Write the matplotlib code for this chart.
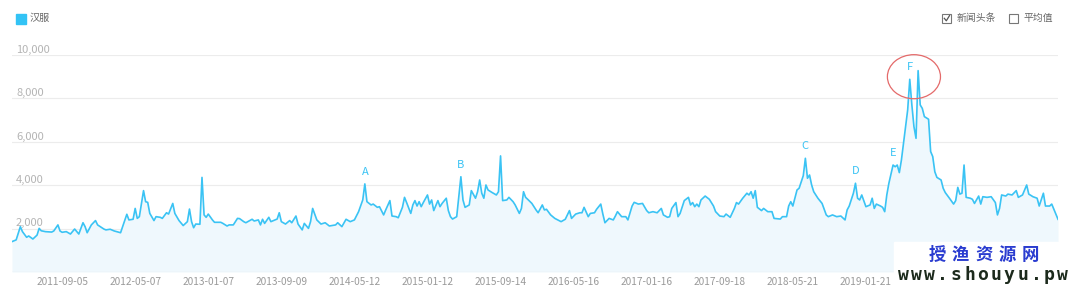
import numpy as np
import pandas as pd
import matplotlib
matplotlib.use('Agg')
import matplotlib.pyplot as plt
import matplotlib.dates as mdates
from matplotlib.patches import Ellipse, Rectangle
from matplotlib.lines import Line2D

plt.rcParams['font.family'] = ['Noto Sans CJK SC', 'DejaVu Sans']

# weekly search index for "汉服", weeks counted from 2011-03-21
start = pd.Timestamp('2011-03-21')
weeks = [0, 2, 4, 5, 7, 8, 10, 12, 13, 14, 16, 19, 20, 22, 23, 24, 26, 28, 30, 32,
         34, 35, 36, 38, 40, 41, 44, 45, 47, 49, 52, 53, 55, 56, 58, 59, 60, 61, 63, 64,
         65, 66, 68, 69, 71, 72, 74, 75, 77, 78, 80, 82, 84, 85, 86, 87, 88, 90, 91, 92,
         93, 94, 96, 97, 100, 101, 103, 104, 106, 108, 109, 111, 112, 115, 116, 118, 119, 120, 121, 123,
         124, 127, 128, 129, 131, 133, 134, 136, 137, 139, 140, 142, 143, 144, 146, 148, 150, 152, 155, 156,
         158, 160, 162, 164, 166, 168, 169, 170, 172, 173, 175, 176, 178, 179, 181, 182, 184, 185, 187, 188,
         189, 191, 192, 193, 194, 195, 196, 197, 199, 200, 201, 202, 204, 205, 206, 208, 209, 210, 211, 213,
         215, 216, 217, 219, 220, 222, 223, 224, 225, 226, 227, 228, 230, 232, 233, 234, 235, 237, 238, 240,
         241, 243, 244, 245, 246, 247, 249, 251, 252, 254, 255, 256, 258, 260, 263, 265, 267, 268, 270, 272,
         273, 274, 276, 277, 279, 280, 282, 283, 284, 286, 288, 289, 290, 292, 294, 295, 297, 298, 300, 302,
         304, 305, 307, 309, 311, 312, 314, 315, 316, 318, 319, 320, 322, 324, 325, 326, 327, 328, 329, 330,
         332, 334, 336, 337, 339, 341, 342, 344, 346, 347, 348, 350, 352, 353, 354, 355, 356, 357, 359, 360,
         362, 364, 365, 368, 369, 371, 372, 373, 374, 376, 377, 379, 380, 381, 382, 383, 384, 386, 388, 390,
         391, 393, 395, 397, 399, 400, 401, 403, 404, 405, 406, 407, 409, 411, 412, 413, 414, 416, 417, 418,
         419, 420, 422, 423, 424, 425, 426, 427, 429, 430, 431, 432, 433, 434, 435, 436, 437, 439, 440, 441,
         442, 443, 445, 446, 447, 449, 451, 452, 453, 454, 455, 456, 457, 459, 460, 461, 463, 464, 465, 467,
         469, 471, 472, 473, 474, 476, 477, 479, 481, 482, 484, 486, 487, 489, 491, 492, 494, 495, 497, 498,
         501]
values = [1400, 1480, 2090, 1860, 1600, 1660, 1520, 1700, 2010, 1900, 1860, 1840, 1890, 2170, 1890, 1830, 1860, 1750, 1980, 1750,
          2270, 2090, 1810, 2170, 2370, 2170, 1980, 1940, 1970, 1890, 1810, 2090, 2660, 2400, 2430, 2930, 2470, 2550, 3750, 3240,
          3210, 2700, 2370, 2550, 2520, 2470, 2730, 2670, 3160, 2700, 2370, 2140, 2320, 2900, 2320, 2040, 2210, 2200, 4360, 2630,
          2520, 2670, 2400, 2290, 2290, 2240, 2120, 2170, 2170, 2470, 2460, 2320, 2270, 2430, 2350, 2400, 2170, 2430, 2240, 2520,
          2320, 2440, 2730, 2320, 2210, 2370, 2270, 2580, 2210, 1940, 2240, 2010, 2320, 2930, 2400, 2210, 2270, 2120, 2170, 2270,
          2090, 2430, 2320, 2400, 2780, 3320, 4060, 3240, 3090, 3130, 2980, 3010, 2630, 2860, 3290, 2580, 2550, 2500, 2980, 3440,
          3200, 2700, 3090, 3290, 3040, 3240, 3010, 3200, 3550, 3130, 3320, 2830, 3290, 3010, 3160, 3400, 2830, 2550, 2440, 2550,
          4390, 3320, 2980, 3090, 3750, 3400, 3700, 4240, 3630, 3400, 4010, 3780, 3660, 3550, 3700, 5350, 3290, 3320, 3440, 3240,
          3090, 2700, 2930, 3700, 3440, 3350, 3160, 2860, 2730, 3090, 2860, 2890, 2630, 2470, 2320, 2430, 2830, 2470, 2670, 2730,
          2730, 2980, 2550, 2700, 2730, 2890, 3130, 2670, 2270, 2470, 2400, 2580, 2780, 2550, 2550, 2400, 3040, 3210, 3130, 3160,
          2830, 2730, 2780, 2730, 2930, 2630, 2520, 2550, 2930, 3200, 2550, 2700, 3290, 3440, 3090, 3200, 3010, 3130, 3010, 3320,
          3500, 3350, 3040, 2780, 2580, 2550, 2670, 2520, 2930, 3200, 3130, 3400, 3630, 3550, 3700, 3400, 3750, 2980, 2830, 2930,
          2780, 2780, 2470, 2440, 2550, 2550, 3040, 3240, 3040, 3780, 3860, 4440, 5240, 4320, 4470, 4010, 3700, 3400, 3160, 2630,
          2550, 2630, 2550, 2580, 2400, 2860, 3040, 3630, 4090, 3400, 3320, 3550, 3010, 3090, 3400, 2930, 3130, 3040, 2980, 2780,
          3550, 4090, 4930, 4850, 4930, 4580, 5160, 5930, 7470, 8880, 7700, 6700, 6160, 9280, 7700, 7540, 7160, 7040, 5550, 5320,
          4620, 4360, 4240, 3860, 3660, 3400, 3130, 3290, 3900, 3590, 3630, 4930, 3440, 3400, 3350, 3160, 3500, 3130, 3470, 3440,
          3470, 3200, 2630, 2930, 3550, 3500, 3590, 3550, 3750, 3440, 3550, 4010, 3590, 3470, 3400, 3040, 3630, 3040, 3040, 3130,
          2430]

event_labels = ['A', 'B', 'C', 'D', 'E', 'F']
event_weeks = [169, 215, 380, 404, 422, 430]
y_ticks = [2000, 4000, 6000, 8000, 10000]
first_tick = pd.Timestamp('2011-09-05')

W, H = 1080, 294
BLUE = '#3ac3f4'


def fx(px):
    return px / W


def fy(py):
    return 1 - py / H


def wk2num(w):
    return mdates.date2num((start + pd.Timedelta(weeks=int(w))).to_pydatetime())


x = np.array([wk2num(w) for w in weeks])

fig = plt.figure(figsize=(W / 100, H / 100), dpi=100)
ax = fig.add_axes([fx(12), 1 - 272 / H, 1046 / W, 217 / H])

ax.fill_between(x, values, 0, color='#eff8fd', lw=0, zorder=1)
ax.plot(x, values, color=BLUE, lw=1.2, solid_joinstyle='round', zorder=3)
ax.set_xlim(wk2num(0), wk2num(501))
ax.set_ylim(0, 10000)

ax.axhline(0, color='#e6e6e6', lw=0.9, zorder=2)
for v in y_ticks:
    ax.axhline(v, color='#ececec', lw=0.8, zorder=0)
    ax.annotate(f'{v:,}', xy=(0, v), xycoords=('axes fraction', 'data'),
                xytext=(2.9, 1.6), textcoords='offset points',
                ha='left', va='baseline', fontsize=8, color='#b4b4b4')

for sp in ax.spines.values():
    sp.set_visible(False)
ax.set_yticks([])
tick_dates = pd.date_range(first_tick, periods=14, freq='245D')
ax.set_xticks([mdates.date2num(d.to_pydatetime()) for d in tick_dates])
ax.set_xticklabels([d.strftime('%Y-%m-%d') for d in tick_dates], fontsize=7.3, color='#9a9a9a')
ax.tick_params(axis='x', length=0, pad=3.5)
ax.patch.set_alpha(0)

# event markers
for lab, wk in zip(event_labels, event_weeks):
    v = values[weeks.index(wk)]
    ax.annotate(lab, xy=(wk2num(wk), v), xytext=(0, 8.6), textcoords='offset points',
                ha='center', va='center', fontsize=8, color=BLUE)

# red circle around the F peaks
f_top = max(values)
ax.add_patch(Ellipse((wk2num(432.7), f_top - 280), width=178, height=2030,
                     fill=False, ec='#e46a6a', lw=0.9, clip_on=False, zorder=5))

# legend (top left)
fig.patches.append(Rectangle((fx(16), fy(23.5)), 9.5 / W, 9.5 / H, transform=fig.transFigure,
                             color='#33c3f5'))
fig.text(fx(30), fy(18.3), '汉服', fontsize=7.3, color='#666666', va='center')

# check boxes (top right)
fig.patches.append(Rectangle((fx(942), fy(23)), 9 / W, 9 / H, transform=fig.transFigure,
                             fill=False, ec='#777777', lw=0.8))
fig.add_artist(Line2D([fx(944.3), fx(946.3), fx(949.5)], [fy(18.3), fy(20.8), fy(15.6)],
                      transform=fig.transFigure, color='#555555', lw=0.9))
fig.text(fx(956.5), fy(18.3), '新闻头条', fontsize=7.1, color='#666666', va='center')
fig.patches.append(Rectangle((fx(1009), fy(23)), 9 / W, 9 / H, transform=fig.transFigure,
                             fill=False, ec='#777777', lw=0.8))
fig.text(fx(1024), fy(18.3), '平均值', fontsize=7.1, color='#666666', va='center')

# watermark
fig.patches.append(Rectangle((fx(894), 0), (W - 894) / W, (H - 241.5) / H, transform=fig.transFigure,
                             color='white', zorder=10))
for i, ch in enumerate('授渔资源网'):
    fig.text(fx(937 + i * 23.4), fy(255), ch, fontsize=12.5, fontweight='bold', color='#2a3cd0',
             ha='center', va='center', zorder=11)
for i, ch in enumerate('www.shouyu.pw'):
    fig.text(fx(903 + i * 13.3), fy(275), ch, fontsize=13, fontweight='bold', color='#1c2a1c',
             family='DejaVu Sans Mono', ha='center', va='center', zorder=11)

fig.savefig('out.png', dpi=100)
